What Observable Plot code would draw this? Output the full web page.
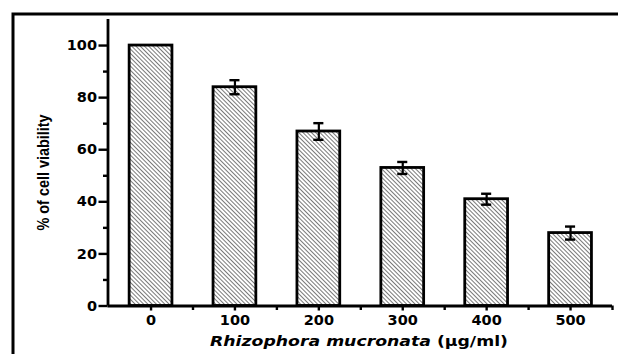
<!DOCTYPE html><html><head><meta charset="utf-8">
<script src="https://cdn.jsdelivr.net/npm/d3@7"></script>
<script src="https://cdn.jsdelivr.net/npm/@observablehq/plot@0.6"></script>
<style>
html,body{margin:0;padding:0;background:#fff;overflow:hidden}
#chart{width:618px;height:354px;overflow:hidden}
#chart svg{display:block}
</style></head><body><div id="chart"></div>
<script>
const doses = [0, 100, 200, 300, 400, 500];
const viability = [100, 84, 67, 53, 41, 28];
const errors = [0, 2.7, 3.2, 2.3, 2.1, 2.5];
const yTicks = [0, 20, 40, 60, 80, 100];
const yMinor = [10, 30, 50, 70, 90];
const xMinor = [50, 150, 250, 350, 450, 550];
const yLabel = "% of cell viability";
const xLabelItalic = "Rhizophora mucronata";
const xLabelUnit = " (μg/ml)";

const data = doses.map((d, i) => ({dose: d, v: viability[i], e: errors[i]}));
const errData = data.filter(d => d.e > 0);
const xDom = [-51.3, 550];
const yDom = [0, 110];
const half = 25.5, cap = 6;
const tickFont = {fontFamily: "DejaVu Sans", fontWeight: "bold", fontSize: 14.5, fill: "#000"};

const plot = Plot.plot({
  width: 618, height: 354,
  marginLeft: 107.5, marginRight: 6, marginTop: 19, marginBottom: 48.5,
  style: {background: "#fff", color: "#000"},
  x: {type: "linear", domain: xDom},
  y: {domain: yDom},
  marks: [
    Plot.rectY(data, {x1: d => d.dose - half, x2: d => d.dose + half, y: "v", fill: "url(#hatch)", stroke: "#000", strokeWidth: 2.8}),
    Plot.ruleX(errData, {x: "dose", y1: d => d.v - d.e, y2: d => d.v + d.e, stroke: "#000", strokeWidth: 2.2}),
    Plot.ruleY(errData, {y: d => d.v + d.e, x1: d => d.dose - cap, x2: d => d.dose + cap, stroke: "#000", strokeWidth: 2.4}),
    Plot.ruleY(errData, {y: d => d.v - d.e, x1: d => d.dose - cap, x2: d => d.dose + cap, stroke: "#000", strokeWidth: 2.4}),
    Plot.axisY({ticks: yTicks, tickSize: 9, tickPadding: 2, strokeWidth: 2.4, ...tickFont, tickFormat: d => d, label: null}),
    Plot.axisY({ticks: yMinor, tickSize: 4.5, strokeWidth: 2.4, text: null, label: null}),
    Plot.axisX({ticks: doses, tickSize: 5, tickPadding: 4, strokeWidth: 2.4, ...tickFont, tickFormat: d => d, label: null}),
    Plot.axisX({ticks: xMinor, tickSize: 4.5, strokeWidth: 2.4, text: null, label: null}),
    Plot.ruleX([xDom[0]], {y1: yDom[0], y2: yDom[1], stroke: "#000", strokeWidth: 2.8}),
    Plot.ruleY([0], {x1: xDom[0], x2: xDom[1], stroke: "#000", strokeWidth: 2.8})
  ]
});
const svg = d3.select(plot);
const defs = svg.insert("defs", ":first-child");
const pat = defs.append("pattern").attr("id", "hatch").attr("patternUnits", "userSpaceOnUse")
  .attr("width", 3).attr("height", 3).attr("patternTransform", "rotate(-45)");
pat.append("rect").attr("width", 3).attr("height", 3).attr("fill", "#fff");
pat.append("line").attr("x1", 0.5).attr("y1", 0).attr("x2", 0.5).attr("y2", 3).attr("stroke", "#6a6a6a").attr("stroke-width", 0.9);
// outer frame (only left and top edges fall inside the picture)
svg.append("path").attr("d", "M13,400V14H700").attr("fill", "none").attr("stroke", "#000").attr("stroke-width", 3);
// y label
svg.append("text").attr("transform", "translate(49,230.5) rotate(-90)")
  .attr("text-anchor", "start").attr("textLength", 116).attr("lengthAdjust", "spacingAndGlyphs")
  .attr("font-family", "Liberation Sans").attr("font-weight", "bold").attr("font-size", 17).attr("fill", "#000")
  .text(yLabel);
// x label
const t = svg.append("text").attr("x", 359).attr("y", 346).attr("text-anchor", "middle")
  .attr("textLength", 298).attr("lengthAdjust", "spacingAndGlyphs")
  .attr("font-family", "DejaVu Sans").attr("font-weight", "bold").attr("font-size", 14.5).attr("fill", "#000");
t.append("tspan").attr("font-style", "italic").text(xLabelItalic);
t.append("tspan").text(xLabelUnit);
document.getElementById("chart").appendChild(plot);
</script></body></html>
